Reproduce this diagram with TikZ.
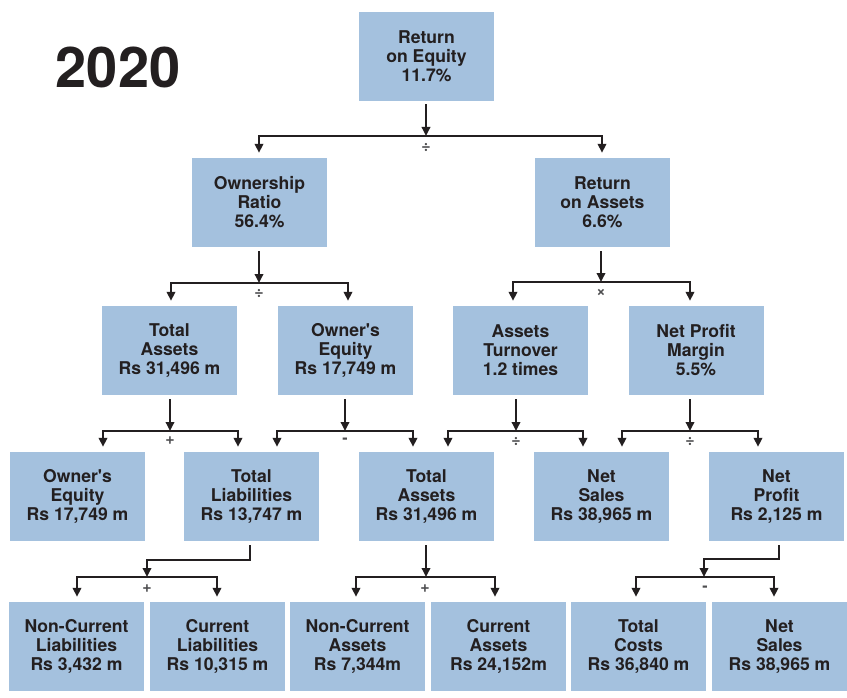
\documentclass[tikz,border=0pt]{standalone}
\usepackage{fontspec}
\setmainfont{TeX Gyre Heros}
\usetikzlibrary{arrows.meta,calc}
\definecolor{boxblue}{HTML}{A4C1DE}
\definecolor{ink}{HTML}{231F20}
\definecolor{opgray}{HTML}{4D4D4F}
\begin{document}
\begin{tikzpicture}[x=1pt,y=-1pt,
  box/.style={fill=boxblue, draw=none, minimum width=135pt, minimum height=89pt, inner sep=0pt,
    align=center, text=ink, font=\fontsize{17.6}{19}\selectfont\bfseries},
  ln/.style={draw=ink, line width=1.8pt},
  arr/.style={ln, -{Triangle[width=8.5pt,length=9pt]}},
  arr2/.style={ln, {Triangle[width=8.5pt,length=9pt]}-{Triangle[width=8.5pt,length=9pt]}},
  op/.style={text=opgray, inner sep=0pt, font=\fontsize{16}{16}\selectfont\bfseries}]
\useasboundingbox (0,0) rectangle (847,698);

\node[text=ink, inner sep=0pt, font=\fontsize{56}{56}\selectfont\bfseries] (year) at (118,67) {2020};

% level 1
\node[box] (roe) at (426.5,56.5) {Return\\on Equity\\11.7\%};
% level 2
\node[box] (own) at (259.5,202.5) {Ownership\\Ratio\\56.4\%};
\node[box] (roa) at (602.5,202.5) {Return\\on Assets\\6.6\%};
% level 3
\node[box] (ta1) at (169.5,350.5) {Total\\Assets\\Rs 31,496 m};
\node[box] (oe1) at (345.5,350.5) {Owner\textquotesingle s\\Equity\\Rs 17,749 m};
\node[box] (at)  at (520.5,350.5) {Assets\\Turnover\\1.2 times};
\node[box] (npm) at (696,350.5) {Net Profit\\Margin\\5.5\%};
% level 4
\node[box] (oe2) at (77.5,496.5) {Owner\textquotesingle s\\Equity\\Rs 17,749 m};
\node[box] (tl)  at (251.5,496.5) {Total\\Liabilities\\Rs 13,747 m};
\node[box] (ta2) at (426.5,496.5) {Total\\Assets\\Rs 31,496 m};
\node[box] (ns1) at (601.5,496.5) {Net\\Sales\\Rs 38,965 m};
\node[box] (np)  at (776.5,496.5) {Net\\Profit\\Rs 2,125 m};
% level 5
\node[box] (ncl) at (76.5,646.5) {Non-Current\\Liabilities\\Rs 3,432 m};
\node[box] (cl)  at (217.5,646.5) {Current\\Liabilities\\Rs 10,315 m};
\node[box] (nca) at (357.5,646.5) {Non-Current\\Assets\\Rs 7,344m};
\node[box] (ca)  at (498.5,646.5) {Current\\Assets\\Rs 24,152m};
\node[box] (tc)  at (638.5,646.5) {Total\\Costs\\Rs 36,840 m};
\node[box] (ns2) at (779.5,646.5) {Net\\Sales\\Rs 38,965 m};

% ---------- connectors ----------
% ROE
\coordinate (a1) at (426,136);
\coordinate (a1l) at (259,136); \coordinate (a1r) at (602,136);
\draw[arr] ($(roe.south)+(-0.5,3)$) -- (a1);
\draw[arr2] ($(a1l |- own.north)+(0,-5)$) -- (a1l) -- (a1r) -- ($(a1r |- roa.north)+(0,-5)$);
\node[op] (op1) at (426,148) {÷};

% Ownership
\coordinate (a2) at (259,283);
\coordinate (a2l) at (171,283); \coordinate (a2r) at (348,283);
\draw[arr] ($(own.south)+(-0.5,4)$) -- (a2);
\draw[arr2] ($(a2l |- ta1.north)+(0,-5)$) -- (a2l) -- (a2r) -- ($(a2r |- oe1.north)+(0,-5)$);
\node[op] (op2) at (259,294) {÷};

% ROA
\coordinate (a3) at (601,282);
\coordinate (a3l) at (513,282); \coordinate (a3r) at (690,282);
\draw[arr] (roa.south -| a3) ++(0,4) -- (a3);
\draw[arr2] ($(a3l |- at.north)+(0,-5)$) -- (a3l) -- (a3r) -- ($(a3r |- npm.north)+(0,-5)$);
\node[op] (op3) at (601,293) {×};

% Total Assets (L3)
\coordinate (b1) at (170,431);
\coordinate (b1l) at (103,431); \coordinate (b1r) at (238,431);
\draw[arr] (ta1.south -| b1) ++(0,4) -- (b1);
\draw[arr2] ($(b1l |- oe2.north)+(0,-5)$) -- (b1l) -- (b1r) -- ($(b1r |- tl.north)+(0,-5)$);
\node[op] (op4) at (170,441) {+};

% Owner's Equity (L3)
\coordinate (b2) at (345,431);
\coordinate (b2l) at (277,431); \coordinate (b2r) at (413,431);
\draw[arr] (oe1.south -| b2) ++(0,4) -- (b2);
\draw[arr2] ($(b2l |- tl.north)+(0,-5)$) -- (b2l) -- (b2r) -- ($(b2r |- ta2.north)+(0,-5)$);
\node[op] (op5) at (345,441) {-};

% Assets Turnover
\coordinate (b3) at (516,431);
\coordinate (b3l) at (448,431); \coordinate (b3r) at (583,431);
\draw[arr] (at.south -| b3) ++(0,4) -- (b3);
\draw[arr2] ($(b3l |- ta2.north)+(0,-5)$) -- (b3l) -- (b3r) -- ($(b3r |- ns1.north)+(0,-5)$);
\node[op] (op6) at (516,441) {÷};

% Net Profit Margin
\coordinate (b4) at (690,431);
\coordinate (b4l) at (622,431); \coordinate (b4r) at (758,431);
\draw[arr] (npm.south -| b4) ++(0,4) -- (b4);
\draw[arr2] ($(b4l |- ns1.north)+(0,-5)$) -- (b4l) -- (b4r) -- ($(b4r |- np.north)+(0,-5)$);
\node[op] (op7) at (690,441) {÷};

% Total Liabilities
\coordinate (c1) at (147,577);
\coordinate (c1l) at (77,577); \coordinate (c1r) at (217,577);
\draw[arr] (tl.south -| 250,0) ++(0,4) -- (250,560) -- (147,560) -- (c1);
\draw[arr2] ($(c1l |- ncl.north)+(0,-5)$) -- (c1l) -- (c1r) -- ($(c1r |- cl.north)+(0,-5)$);
\node[op] (op8) at (147,589) {+};

% Total Assets (L4)
\coordinate (c2) at (426,577);
\coordinate (c2l) at (356,577); \coordinate (c2r) at (495,577);
\draw[arr] (ta2.south -| c2) ++(0,4) -- (c2);
\draw[arr2] ($(c2l |- nca.north)+(0,-5)$) -- (c2l) -- (c2r) -- ($(c2r |- ca.north)+(0,-5)$);
\node[op] (op9) at (425,589) {+};

% Net Profit
\coordinate (c3) at (704,577);
\coordinate (c3l) at (636,577); \coordinate (c3r) at (774,577);
\draw[arr] (np.south -| 779,0) ++(0,4) -- (779,559) -- (704,559) -- (c3);
\draw[arr2] ($(c3l |- tc.north)+(0,-5)$) -- (c3l) -- (c3r) -- ($(c3r |- ns2.north)+(0,-5)$);
\node[op] (op10) at (705,589) {-};
\end{tikzpicture}
\end{document}
